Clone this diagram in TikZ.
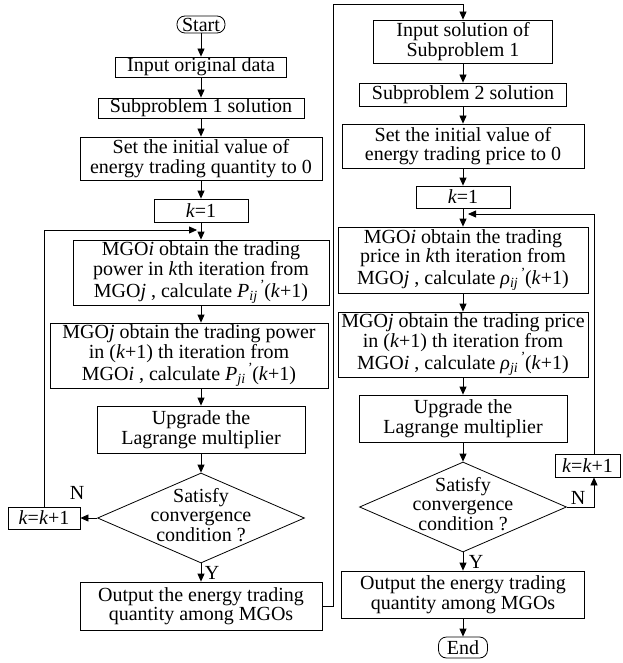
\documentclass[tikz,border=0pt]{standalone}
\usepackage{fontspec}
\setmainfont{Liberation Serif}
\usepackage{amsmath}
\usetikzlibrary{shapes.geometric,arrows.meta,calc}
\newcommand{\subsup}[2]{\textit{#1}\textsubscript{\textit{#2}}\kern1.5pt\textsuperscript{\textit{'}}}
\begin{document}
\begin{tikzpicture}[x=1pt,y=-1pt,
  every node/.style={font=\fontsize{20}{19.5}\selectfont, inner sep=0pt},
  bx/.style 2 args={draw, line width=0.8pt, align=center, minimum width=#1pt, minimum height=#2pt},
  rbx/.style 2 args={draw, line width=0.8pt, rounded corners=8pt, minimum width=#1pt, minimum height=#2pt},
  dia/.style={draw, line width=0.8pt, diamond, minimum width=207pt, minimum height=90pt},
  lbl/.style={align=center},
  arr/.style={-{Triangle[length=8pt,width=7pt]}, line width=0.8pt}]
\useasboundingbox (0,0) rectangle (622,663);
% left column
\node[rbx={48}{17}] (start) at (201,24.5) {Start};
\node[bx={171}{20}] (in1) at (201,67) {Input original data};
\node[bx={206}{20}] (sp1) at (201,108) {Subproblem 1 solution};
\node[bx={242}{43}] (set1) at (201,158.5) {Set the initial value of\\energy trading quantity to 0};
\node[bx={94}{23}] (k1) at (201,210.5) {\textit{k}=1};
\node[bx={256}{65}] (m1) at (201,272.5) {MGO\textit{i} obtain the trading\\power in \textit{k}th iteration from\\MGO\textit{j} , calculate \subsup{P}{ij}(\textit{k}+1)};
\node[bx={278}{65}] (m2) at (189,355.5) {MGO\textit{j} obtain the trading power\\in (\textit{k}+1) th iteration from\\MGO\textit{i} , calculate \subsup{P}{ji}(\textit{k}+1)};
\node[bx={208}{47}] (up1) at (201,429.5) {Upgrade the\\Lagrange multiplier};
\node[dia] (d1) at (201,518) {};
\node[lbl] (d1t) at (201,515) {Satisfy\\convergence\\condition ?};
\node[bx={72}{22}] (kk1) at (44,518) {\textit{k}=\textit{k}+1};
\node[bx={242}{48}] (out1) at (201,606) {Output the energy trading\\quantity among MGOs};
\node (lN) at (77,493) {N};
\node (lY) at (212,573) {Y};
% right column
\node[bx={179}{43}] (in2) at (463,41.5) {Input solution of\\Subproblem 1};
\node[bx={207}{23}] (sp2) at (463,94.5) {Subproblem 2 solution};
\node[bx={242}{44}] (set2) at (463,146) {Set the initial value of\\energy trading price to 0};
\node[bx={94}{22}] (k2) at (463,197) {\textit{k}=1};
\node[bx={250}{66}] (m3) at (463,260) {MGO\textit{i} obtain the trading\\price in \textit{k}th iteration from\\MGO\textit{j} , calculate \subsup{ρ}{ij}(\textit{k}+1)};
\node[bx={250}{65}] (m4) at (463,344.5) {MGO\textit{j} obtain the trading price\\in (\textit{k}+1) th iteration from\\MGO\textit{i} , calculate \subsup{ρ}{ji}(\textit{k}+1)};
\node[bx={208}{47}] (up2) at (463,418.5) {Upgrade the\\Lagrange multiplier};
\node[dia] (d2) at (463,507) {};
\node[lbl] (d2t) at (463,504) {Satisfy\\convergence\\condition ?};
\node[bx={65}{23}] (kk2) at (587.5,465.5) {\textit{k}=\textit{k}+1};
\node[bx={243}{47}] (out2) at (463,594.5) {Output the energy trading\\quantity among MGOs};
\node[rbx={49}{21}] (end) at (463,647.5) {End};
\node (rN) at (578,498) {N};
\node (rY) at (476,562) {Y};
% coordinates
\coordinate (lj) at (197,230);
\coordinate (c1) at (333,4);
\coordinate (rx) at (594,507);
\coordinate (rj) at (468,214);
% left connectors
\draw[arr] (start) -- (in1);
\draw[arr] (in1) -- (sp1);
\draw[arr] (sp1) -- (set1);
\draw[arr] (set1) -- (k1);
\draw[arr] (k1) -- (m1);
\draw[arr] (m1.south) -- (m1.south |- m2.north);
\draw[arr] (up1.north |- m2.south) -- (up1.north);
\draw[arr] (up1) -- (d1);
\draw[arr] (d1.south) -- (out1.north);
\draw[arr] (d1.west) -- (kk1.east);
\draw[arr] (kk1.north) |- (lj);
\draw[arr] (out1.east) -| (c1) -| (in2.north);
% right connectors
\draw[arr] (in2) -- (sp2);
\draw[arr] (sp2) -- (set2);
\draw[arr] (set2) -- (k2);
\draw[arr] (k2) -- (m3);
\draw[arr] (m3) -- (m4);
\draw[arr] (m4) -- (up2);
\draw[arr] (up2) -- (d2);
\draw[arr] (d2.south) -- (out2.north);
\draw[arr] (d2.east) -- (rx) -- (rx |- kk2.south);
\draw[arr] (rx |- kk2.north) |- (rj);
\draw[arr] (out2) -- (end);
\end{tikzpicture}
\end{document}
